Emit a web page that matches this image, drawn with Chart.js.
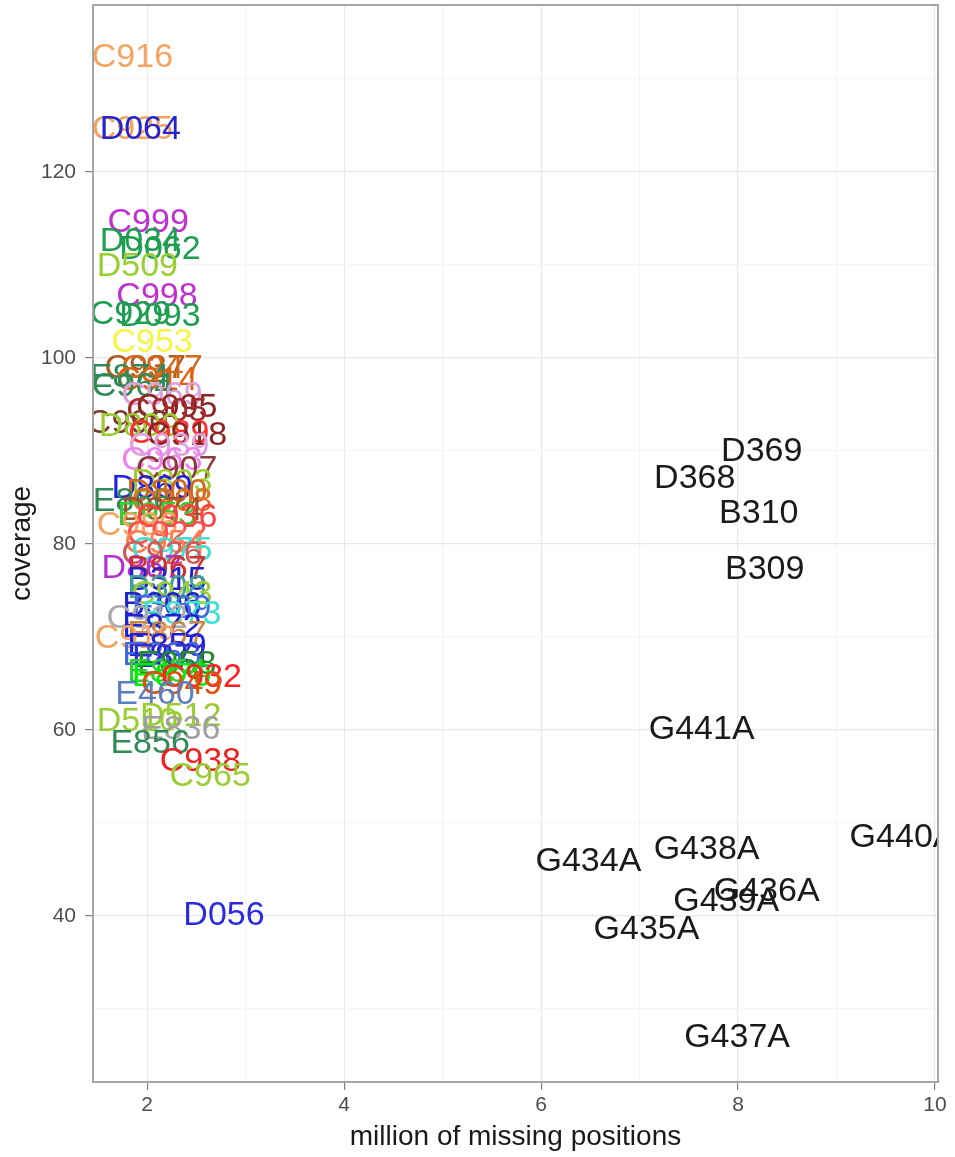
<!DOCTYPE html>
<html lang="en">
<head>
  <meta charset="UTF-8">
  <title>coverage vs missing positions</title>
  <script src="https://cdn.jsdelivr.net/npm/chart.js"></script>
  <style>
    body { margin: 0; background: #fff; }
    #wrap { width: 955px; height: 1157px; }
  </style>
</head>
<body>
<div id="wrap">
  <canvas id="grafico"></canvas>
</div>

<script>
  // sample names, million of missing positions, coverage
  const names = [
    "C916", "C925", "D064", "C999", "D034", "D062", "D509", "C998", "C929", "D093",
    "C953", "C937", "C947", "E874", "C914", "C964", "C969", "C995", "C905", "C990",
    "D809", "C989", "C918", "C939", "C963", "C907", "D803", "D869", "D800", "E866",
    "C908", "D874", "E953", "C936", "C986", "C922", "C954", "C975", "C926", "D867",
    "B967", "B315", "B308", "C943", "B306", "E869", "E873", "C912", "E872", "E867",
    "C919", "E859", "E863", "E871", "E858", "E854", "E870", "C932", "C949", "E460",
    "D512", "D510", "E836", "E856", "C938", "C965", "D056",
    "D369", "D368", "B310", "B309", "G441A", "G434A", "G438A", "G440A", "G436A",
    "G439A", "G435A", "G437A"
  ];
  const missing = [
    1.85, 1.85, 1.93, 2.01, 1.93, 2.13, 1.90, 2.10, 1.83, 2.13,
    2.05, 1.98, 2.15, 1.82, 2.10, 1.85, 2.15, 2.30, 2.20, 1.80,
    1.92, 2.22, 2.40, 2.22, 2.15, 2.30, 2.25, 2.05, 2.20, 1.85,
    2.25, 2.15, 2.10, 2.30, 1.90, 2.20, 2.18, 2.25, 2.15, 1.95,
    2.20, 2.20, 2.20, 2.25, 2.15, 2.25, 2.35, 2.00, 2.15, 2.20,
    1.88, 2.20, 2.15, 2.25, 2.30, 2.20, 2.25, 2.55, 2.35, 2.08,
    2.34, 1.90, 2.34, 2.03, 2.54, 2.64, 2.78,
    8.24, 7.56, 8.21, 8.27, 7.63, 6.48, 7.68, 9.67, 8.29,
    7.88, 7.07, 7.99
  ];
  const coverage = [
    132.3, 124.5, 124.5, 114.6, 112.5, 111.7, 109.8, 106.6, 104.7, 104.4,
    101.7, 98.9, 98.9, 97.9, 97.6, 96.9, 96.0, 94.7, 94.2, 92.9,
    92.6, 91.9, 91.7, 90.5, 89.0, 88.0, 86.6, 86.0, 85.5, 84.6,
    84.6, 83.6, 83.0, 82.8, 82.0, 81.0, 80.0, 79.3, 78.9, 77.3,
    77.2, 76.1, 75.2, 74.5, 73.4, 73.1, 72.4, 72.0, 71.0, 70.3,
    69.8, 69.0, 68.0, 67.8, 67.0, 66.2, 65.7, 65.6, 64.9, 63.8,
    61.4, 60.9, 60.0, 58.5, 56.6, 55.0, 40.0,
    89.9, 87.0, 83.3, 77.2, 60.0, 45.8, 47.1, 48.4, 42.6,
    41.5, 38.5, 26.9
  ];
  const xTickLabels = [2, 4, 6, 8, 10];
  const yTickLabels = [40, 60, 80, 100, 120];

  // one colour per sample label
  const labelColors = [
    "#f4a460", "#f4a460", "#2323d2", "#c030d0", "#1e9e50", "#1e9e50", "#9acd32", "#c030d0", "#1e9e50", "#1e9e50",
    "#f5f545", "#b05a20", "#d2691e", "#2e8b57", "#e06010", "#2e8b57", "#dda0dd", "#8b2323", "#a52a2a", "#7a3b2e",
    "#9acd32", "#ff3030", "#8b2323", "#dda0dd", "#ee82ee", "#8b3a3a", "#9acd32", "#2020e0", "#d2691e", "#2e8b57",
    "#e07020", "#a0522d", "#32cd32", "#ff4040", "#f4a460", "#ff5050", "#ff7f50", "#40e0d0", "#cd5c5c", "#b030d0",
    "#d03030", "#2020d0", "#40a0a0", "#9acd32", "#2020d0", "#4169e1", "#40e0d0", "#aaaaaa", "#2020d0", "#cd853f",
    "#f4a460", "#2020e0", "#4169e1", "#3030d0", "#228b22", "#32cd32", "#00ee00", "#ff2020", "#e05010", "#5b7fbf",
    "#9acd32", "#9acd32", "#a0a0a0", "#2e8b57", "#ee2020", "#9acd32", "#2a2ae0",
    "#1a1a1a", "#1a1a1a", "#1a1a1a", "#1a1a1a", "#1a1a1a", "#1a1a1a", "#1a1a1a", "#1a1a1a", "#1a1a1a",
    "#1a1a1a", "#1a1a1a", "#1a1a1a"
  ];

  const puntos = missing.map((x, i) => ({ x: x, y: coverage[i] }));

  // draws each sample name centred on its point, clipped to the panel
  const textLabels = {
    id: 'textLabels',
    afterDatasetsDraw(chart) {
      const { ctx, chartArea: a } = chart;
      const meta = chart.getDatasetMeta(0);
      ctx.save();
      ctx.beginPath();
      ctx.rect(a.left, a.top, a.right - a.left, a.bottom - a.top);
      ctx.clip();
      ctx.font = '34px "Liberation Sans", Arial, sans-serif';
      ctx.textAlign = 'center';
      ctx.textBaseline = 'middle';
      meta.data.forEach((pt, i) => {
        ctx.fillStyle = labelColors[i];
        ctx.fillText(names[i], pt.x, pt.y);
      });
      ctx.restore();
    },
    afterDraw(chart) {
      const { ctx, chartArea: a } = chart;
      ctx.save();
      ctx.strokeStyle = '#a6a6a6';
      ctx.lineWidth = 2;
      ctx.strokeRect(a.left, a.top, a.right - a.left, a.bottom - a.top);
      ctx.restore();
    }
  };

  const tickFont = { family: '"Liberation Sans", Arial, sans-serif', size: 21 };
  const titleFont = { family: '"Liberation Sans", Arial, sans-serif', size: 28 };

  new Chart(document.getElementById('grafico'), {
    type: 'scatter',
    data: {
      datasets: [{
        data: puntos,
        pointRadius: 0,
        pointHoverRadius: 0
      }]
    },
    options: {
      responsive: true,
      maintainAspectRatio: false,
      animation: false,
      events: [],
      layout: { padding: { top: 5, right: 17, left: 0, bottom: 0 } },
      plugins: { legend: { display: false }, tooltip: { enabled: false } },
      scales: {
        x: {
          type: 'linear',
          min: 1.45,
          max: 10.03,
          afterFit: (s) => { s.height = 75; s.paddingLeft = 0; s.paddingRight = 0; },
          border: { display: false },
          grid: {
            color: (c) => (c.tick && c.tick.value % 2 === 0) ? '#e8e8e8' : '#f5f5f5',
            tickColor: (c) => (c.tick && c.tick.value % 2 === 0) ? '#7f7f7f' : 'rgba(0,0,0,0)',
            tickLength: 8,
            lineWidth: 1.2
          },
          ticks: {
            stepSize: 1,
            includeBounds: false,
            autoSkip: false,
            maxRotation: 0,
            padding: 3,
            color: '#4d4d4d',
            font: tickFont,
            callback: (v) => xTickLabels.includes(v) ? String(v) : ''
          },
          title: {
            display: true,
            text: 'million of missing positions',
            color: '#1a1a1a',
            font: titleFont,
            padding: { top: 0, bottom: 3 }
          }
        },
        y: {
          type: 'linear',
          min: 22.15,
          max: 137.95,
          afterFit: (s) => { s.width = 93; s.paddingTop = 0; s.paddingBottom = 0; },
          border: { display: false },
          grid: {
            color: (c) => (c.tick && c.tick.value % 20 === 0) ? '#e8e8e8' : '#f5f5f5',
            tickColor: (c) => (c.tick && c.tick.value % 20 === 0) ? '#7f7f7f' : 'rgba(0,0,0,0)',
            tickLength: 8,
            lineWidth: 1.2
          },
          ticks: {
            stepSize: 10,
            includeBounds: false,
            autoSkip: false,
            padding: 9,
            color: '#4d4d4d',
            font: tickFont,
            callback: (v) => yTickLabels.includes(v) ? String(v) : ''
          },
          title: {
            display: true,
            text: 'coverage',
            color: '#1a1a1a',
            font: titleFont,
            padding: { top: 5, bottom: 0 }
          }
        }
      }
    },
    plugins: [textLabels]
  });
</script>
</body>
</html>
